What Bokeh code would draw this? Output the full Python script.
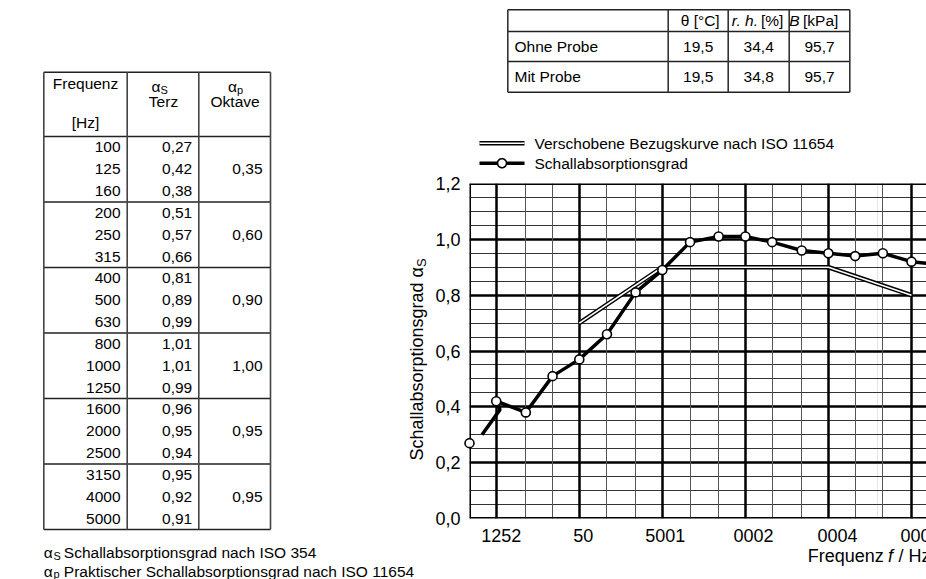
import math
from bokeh.plotting import figure
from bokeh.models import (Range1d, FixedTicker, Grid, Span)
from bokeh.layouts import row, column
from bokeh.embed import file_html
from bokeh.resources import INLINE
from bokeh.core.properties import value

# ---------------- data ----------------
freq_terz = [100, 125, 160, 200, 250, 315, 400, 500, 630, 800, 1000, 1250,
             1600, 2000, 2500, 3150, 4000, 5000]
alpha_s = [0.27, 0.42, 0.38, 0.51, 0.57, 0.66, 0.81, 0.89, 0.99, 1.01, 1.01,
           0.99, 0.96, 0.95, 0.94, 0.95, 0.92, 0.91]
alpha_p = [0.35, 0.60, 0.90, 1.00, 0.95, 0.95]

ref_freq = [250, 500, 1000, 2000, 4000]
ref_alpha = [0.70, 0.90, 0.90, 0.90, 0.80]

# stray start of the drawn measurement line (as in the original drawing)
stray_freq = [111, 129]
stray_alpha = [0.30, 0.39]

y_ticks = [0.0, 0.2, 0.4, 0.6, 0.8, 1.0, 1.2]
y_tick_labels = ["0,0", "0,2", "0,4", "0,6", "0,8", "1,0", "1,2"]
x_tick_freq = [125, 250, 500, 1000, 2000, 4000]
x_tick_labels = ["1252", "50", "5001", "0002", "0004", "0008"]
x_minor_freq = [100, 160, 200, 315, 400, 630, 800, 1250, 1600, 2500, 3150]

legend_labels = ["Verschobene Bezugskurve nach ISO 11654", "Schallabsorptionsgrad"]

clim_rows = ["Ohne Probe", "Mit Probe"]
clim_theta = ["19,5", "19,5"]
clim_rh = ["34,4", "34,8"]
clim_b = ["95,7", "95,7"]

FONT = "Liberation Sans"
FS = "15.5px"
SPLIT = 428          # page x where the right column starts


def fmt(v):
    return f"{v:.2f}".replace(".", ",")


def bare(p):
    p.xgrid.visible = False
    p.ygrid.visible = False
    return p


# ---------------- left table ----------------
lt = bare(figure(width=SPLIT, height=579, x_range=Range1d(0, SPLIT), y_range=Range1d(579, 0),
                 output_backend="svg", toolbar_location=None, min_border=0,
                 x_axis_location=None, y_axis_location=None, outline_line_color=None))

cx = [43.3, 126.7, 198.3, 270.0]
top_y, head_y = 71.7, 136.0
rh = 21.83
bottom_y = head_y + rh * len(freq_terz)
grp = [head_y + rh * 3 * k for k in range(len(alpha_p) + 1)]

hy = [top_y] + grp
lt.segment([cx[0]] * len(hy), hy, [cx[-1]] * len(hy), hy, line_color="#222", line_width=1.6)
lt.segment(cx, [top_y] * 4, cx, [bottom_y] * 4, line_color="#444", line_width=1.6)

ys = [head_y + rh * (i + 0.5) for i in range(len(freq_terz))]
txt = dict(text_font=value(FONT), text_font_size=FS, text_color="black",
           text_baseline="middle")
lt.text([120.0] * len(freq_terz), ys, [str(f) for f in freq_terz], text_align="right", **txt)
lt.text([191.7] * len(alpha_s), ys, [fmt(a) for a in alpha_s], text_align="right", **txt)
yp = [head_y + rh * (3 * k + 1.5) for k in range(len(alpha_p))]
lt.text([262.0] * len(alpha_p), yp, [fmt(a) for a in alpha_p], text_align="right", **txt)

# header
lt.text([85.0, 85.0], [82.5, 121.5], ["Frequenz", "[Hz]"], text_align="center", **txt)
lt.text([163.0, 234.6], [101.0, 101.0], ["Terz", "Oktave"], text_align="center", **txt)
lt.text([160.0, 236.5], [86.0, 86.0], ["α", "α"], text_align="right",
        text_font=value(FONT), text_font_size=FS, text_baseline="alphabetic")
lt.text([160.0, 236.5], [89.0, 89.0], ["S", "p"], text_align="left",
        text_font=value(FONT), text_font_size="11px", text_baseline="alphabetic")

# footnotes
lt.text([43.3, 43.3], [551.5, 570.5], ["α", "α"], text_align="left",
        text_font=value(FONT), text_font_size=FS, text_baseline="alphabetic")
lt.text([53.0, 53.0], [555.0, 573.5], ["S", "p"], text_align="left",
        text_font=value(FONT), text_font_size="11px", text_baseline="alphabetic")
lt.text([63.3, 63.3], [551.5, 570.5],
        ["Schallabsorptionsgrad nach ISO 354",
         "Praktischer Schallabsorptionsgrad nach ISO 11654"],
        text_align="left", text_font=value(FONT), text_font_size=FS,
        text_baseline="alphabetic")

# y-axis title of the chart (sits left of the chart canvas)
lt.text([416.5], [460.0], ["Schallabsorptionsgrad α"], angle=math.pi / 2,
        text_align="left", text_baseline="alphabetic", text_font=value(FONT),
        text_font_size="18px", text_color="black")
lt.text([420.5], [266.5], ["S"], angle=math.pi / 2,
        text_align="left", text_baseline="alphabetic", text_font=value(FONT),
        text_font_size="13px", text_color="black")

# ---------------- chart geometry (page pixels) ----------------
FRAME_L, FRAME_R, FRAME_T, FRAME_B = 469, 926, 183, 518
PX_PER_OCT = 83.05
F_START = 100
F_END = F_START * 2 ** ((FRAME_R - FRAME_L) / PX_PER_OCT)
PX_PER_Y = (FRAME_B - FRAME_T) / 1.2


def fx(px):
    return F_START * 2 ** ((px - FRAME_L) / PX_PER_OCT)


def fy(py):
    return (FRAME_B - py) / PX_PER_Y


# ---------------- top table ----------------
RW = 926 - SPLIT
tt = bare(figure(width=RW, height=118, x_range=Range1d(FRAME_L, FRAME_R),
                 y_range=Range1d(118, 0), output_backend="svg", toolbar_location=None,
                 min_border_left=FRAME_L - SPLIT, min_border_right=0, min_border_top=0,
                 min_border_bottom=0, x_axis_location=None, y_axis_location=None,
                 outline_line_color=None))
tx = [507.3, 667.7, 727.7, 788.7, 849.3]
ty = [9.3, 31.0, 61.0, 91.7]
tt.segment([tx[0]] * 4, ty, [tx[-1]] * 4, ty, line_color="#222", line_width=1.6)
tt.segment(tx, [ty[0]] * 5, tx, [ty[-1]] * 5, line_color="#333", line_width=1.6)
rows_y = [(ty[i] + ty[i + 1]) / 2 for i in range(1, 3)]
tt.text([514.0] * 2, rows_y, clim_rows, text_align="left", **txt)
colc = [(tx[i] + tx[i + 1]) / 2 for i in range(1, 4)]
tt.text([colc[0]] * 2, rows_y, clim_theta, text_align="center", **txt)
tt.text([colc[1]] * 2, rows_y, clim_rh, text_align="center", **txt)
tt.text([colc[2]] * 2, rows_y, clim_b, text_align="center", **txt)
hy_t = (ty[0] + ty[1]) / 2
tt.text([colc[0] + 2], [hy_t], ["θ [°C]"], text_align="center", **txt)
tt.text([757.5, 799.0], [hy_t, hy_t], ["r. h.", "B"], text_align="right",
        text_font_style="italic", **txt)
tt.text([760.5, 802.5], [hy_t, hy_t], ["[%]", "[kPa]"], text_align="left", **txt)

# ---------------- chart ----------------
ch = figure(width=RW, height=461, x_axis_type="log", x_range=Range1d(F_START, F_END),
            y_range=Range1d(0, 1.2), x_axis_location=None,
            min_border_left=FRAME_L - SPLIT, min_border_right=0,
            min_border_top=FRAME_T - 118, min_border_bottom=579 - FRAME_B,
            outline_line_color=None, output_backend="svg", toolbar_location=None)

ax = ch.yaxis[0]
ax.ticker = FixedTicker(ticks=y_ticks)
ax.major_label_overrides = dict(zip(y_ticks, y_tick_labels))
ax.axis_line_color = None
ax.major_tick_line_color = None
ax.minor_tick_line_color = None
ax.major_tick_out = 0
ax.major_tick_in = 0
ax.minor_tick_out = 0
ax.minor_tick_in = 0
ax.major_label_standoff = 9
ax.major_label_text_font = FONT
ax.major_label_text_font_size = "18px"
ax.major_label_text_color = "black"

minor_y = [round(i * 0.05, 2) for i in range(1, 24) if i % 4]
ch.ygrid.ticker = FixedTicker(ticks=y_ticks, minor_ticks=minor_y)
ch.ygrid.grid_line_color = "black"
ch.ygrid.grid_line_width = 2.5
ch.ygrid.minor_grid_line_color = "#333"
ch.ygrid.minor_grid_line_width = 1

xg = Grid(dimension=0, ticker=FixedTicker(ticks=x_tick_freq, minor_ticks=x_minor_freq),
          grid_line_color="black", grid_line_width=2.5,
          minor_grid_line_color="#555", minor_grid_line_width=1)
ch.add_layout(xg)

for loc, dim in [(F_START, "height"), (0, "width"), (1.2, "width")]:
    ch.add_layout(Span(location=loc, dimension=dim, line_color="black", line_width=3))

ch.line(ref_freq, ref_alpha, line_color="black", line_width=4.5)
ch.line(ref_freq, ref_alpha, line_color="white", line_width=1.6)
ch.line(stray_freq + freq_terz[1:], stray_alpha + alpha_s[1:],
        line_color="black", line_width=3.5)
ch.scatter(freq_terz, alpha_s, size=9, fill_color="white", line_color="black",
           line_width=1.6, level="overlay")

# legend (drawn above the frame)
LG_X0, LG_X1, LG_TX = 479, 524, 534
LG_Y = [142.7, 162.7]
ch.line([fx(LG_X0), fx(LG_X1)], [fy(LG_Y[0])] * 2, line_color="black", line_width=4.5,
        level="overlay")
ch.line([fx(LG_X0), fx(LG_X1)], [fy(LG_Y[0])] * 2, line_color="white", line_width=1.6,
        level="overlay")
ch.line([fx(LG_X0), fx(LG_X1)], [fy(LG_Y[1])] * 2, line_color="black", line_width=3.5,
        level="overlay")
mcx, mcy, mr = (LG_X0 + LG_X1) / 2, LG_Y[1], 4.5
ang = [2 * math.pi * k / 32 for k in range(32)]
ch.patch([fx(mcx + mr * math.cos(a)) for a in ang], [fy(mcy + mr * math.sin(a)) for a in ang],
         fill_color="white", line_color="black", line_width=1.6, level="overlay")
ch.text([fx(LG_TX)] * 2, [fy(v) for v in LG_Y], legend_labels, text_align="left",
        level="overlay", **txt)

ttxt = dict(text_font=value(FONT), text_font_size="18px", text_color="black",
            text_baseline="middle", level="overlay")
tick_dx = [-15, -6, -17, -12, -11, -11]
ch.text(x_tick_freq, [fy(535)] * len(x_tick_freq), x_tick_labels, x_offset=tick_dx,
        text_align="left", **ttxt)
ch.text([fx(807.3), fx(887.5)], [fy(555)] * 2, ["Frequenz", "f"], text_align="left",
        text_font_style=["normal", "italic"], **ttxt)
ch.text([fx(898.0)], [fy(555)], ["/ Hz"], text_align="left", **ttxt)

layout = row(lt, column(tt, ch))
open("out.html", "w").write(file_html(layout, INLINE))
